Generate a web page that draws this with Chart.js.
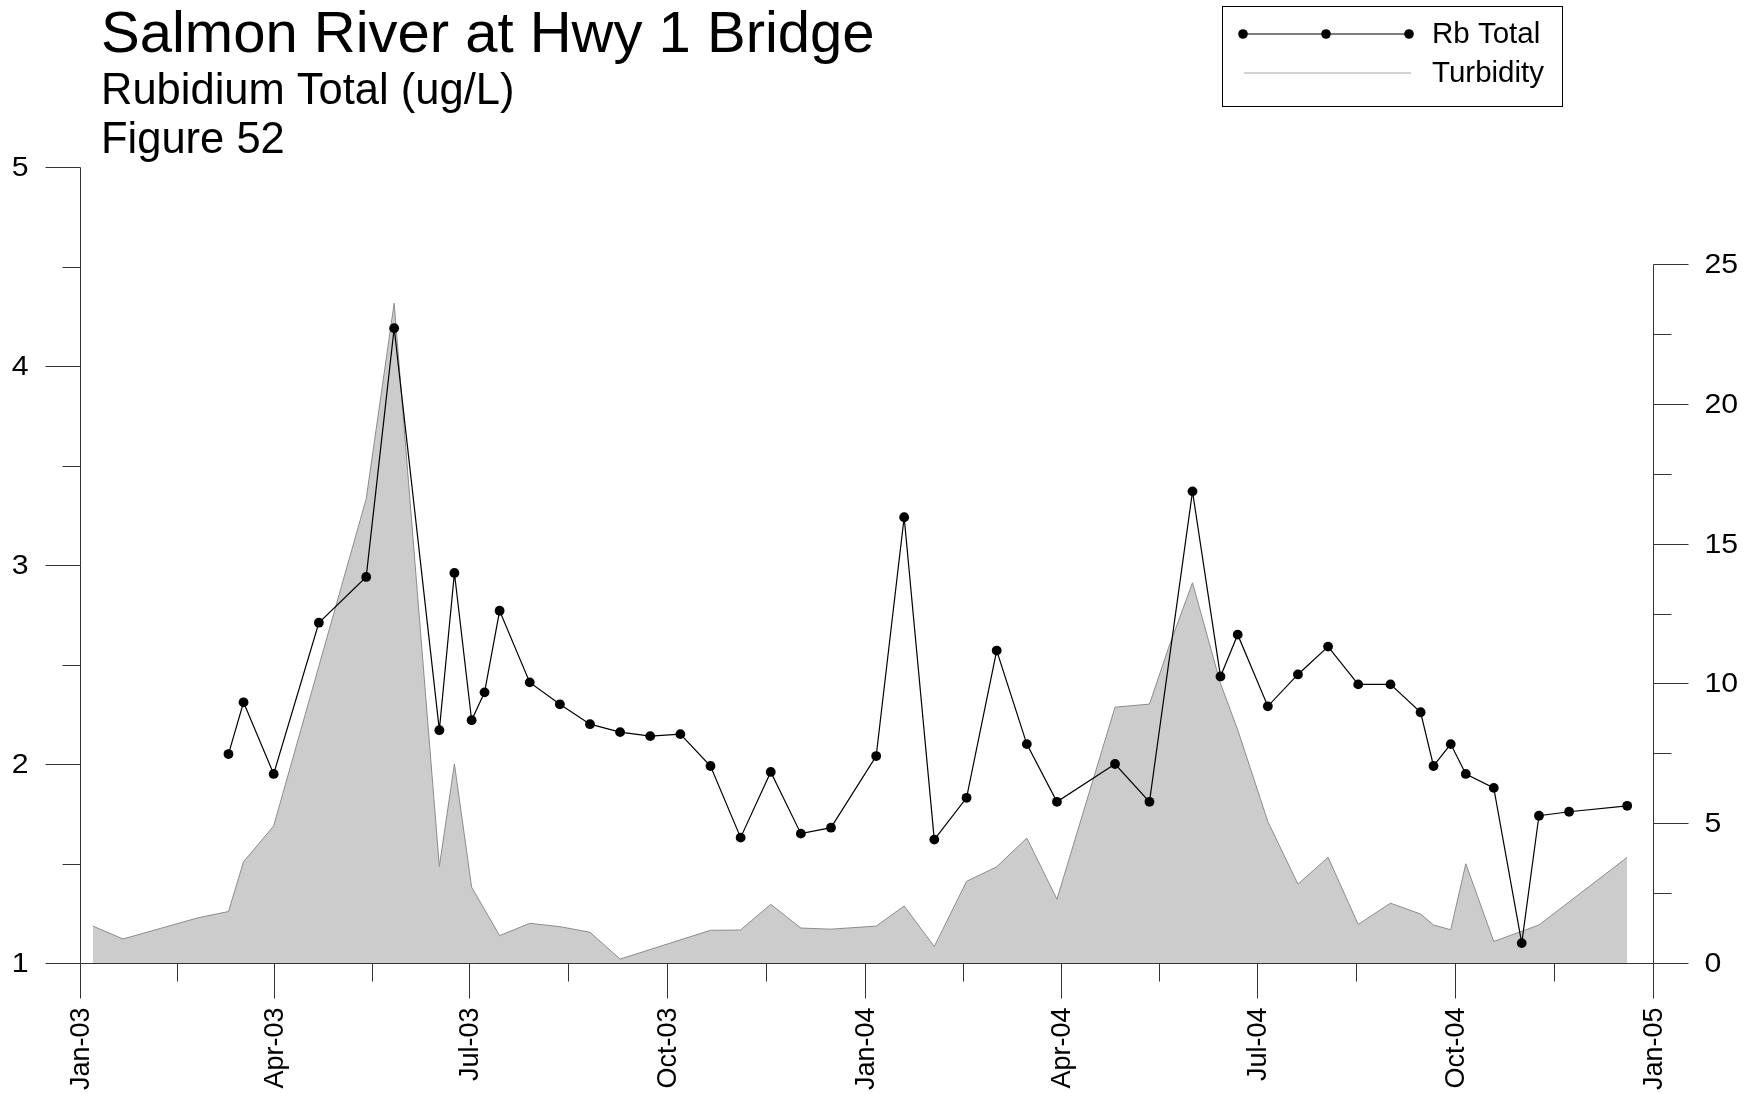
<!DOCTYPE html>
<html>
<head>
<meta charset="utf-8">
<title>Salmon River at Hwy 1 Bridge - Rubidium Total</title>
<script src="https://cdn.jsdelivr.net/npm/chart.js@4.4.1/dist/chart.umd.min.js"></script>
<style>
  html, body { margin: 0; padding: 0; background: #fff; }
  #wrap { width: 1758px; height: 1094px; }
</style>
</head>
<body>
<div id="wrap"><canvas id="rbChart" width="1758" height="1094"></canvas></div>
<script>
// Rubidium total (ug/L), sample dates
const rbDates = [
  "2003-03-11", "2003-03-18", "2003-04-01", "2003-04-22", "2003-05-14", "2003-05-27",
  "2003-06-17", "2003-06-24", "2003-07-02", "2003-07-08", "2003-07-15", "2003-07-29",
  "2003-08-12", "2003-08-26", "2003-09-09", "2003-09-23", "2003-10-07", "2003-10-21",
  "2003-11-04", "2003-11-18", "2003-12-02", "2003-12-16", "2004-01-06", "2004-01-19",
  "2004-02-02", "2004-02-17", "2004-03-02", "2004-03-16", "2004-03-30", "2004-04-26",
  "2004-05-12", "2004-06-01", "2004-06-14", "2004-06-22", "2004-07-06", "2004-07-20",
  "2004-08-03", "2004-08-17", "2004-09-01", "2004-09-15", "2004-09-21", "2004-09-29",
  "2004-10-06", "2004-10-19", "2004-11-01", "2004-11-09", "2004-11-23", "2004-12-20"
];
const rbValues = [
  2.05, 2.31, 1.95, 2.71, 2.94, 4.19,
  2.17, 2.96, 2.22, 2.36, 2.77, 2.41,
  2.30, 2.20, 2.16, 2.14, 2.15, 1.99,
  1.63, 1.96, 1.65, 1.68, 2.04, 3.24,
  1.62, 1.83, 2.57, 2.10, 1.81, 2.00,
  1.81, 3.37, 2.44, 2.65, 2.29, 2.45,
  2.59, 2.40, 2.40, 2.26, 1.99, 2.10,
  1.95, 1.88, 1.10, 1.74, 1.76, 1.79
];

// Turbidity (NTU), right axis
const turbDates = [
  "2003-01-07", "2003-01-21", "2003-02-25", "2003-03-11", "2003-03-18", "2003-04-01",
  "2003-05-14", "2003-05-27", "2003-06-17", "2003-06-24", "2003-07-02", "2003-07-15",
  "2003-07-29", "2003-08-12", "2003-08-26", "2003-09-09", "2003-10-21", "2003-11-04",
  "2003-11-18", "2003-12-02", "2003-12-16", "2004-01-06", "2004-01-19", "2004-02-02",
  "2004-02-17", "2004-03-02", "2004-03-16", "2004-03-30", "2004-04-26", "2004-05-12",
  "2004-05-21", "2004-06-01", "2004-06-14", "2004-06-22", "2004-07-06", "2004-07-20",
  "2004-08-03", "2004-08-17", "2004-09-01", "2004-09-15", "2004-09-21", "2004-09-29",
  "2004-10-06", "2004-10-19", "2004-11-09", "2004-12-20"
];
const turbValues = [
  1.32, 0.86, 1.62, 1.84, 3.62, 4.90,
  16.6, 23.6, 3.45, 7.12, 2.71, 0.98,
  1.42, 1.30, 1.10, 0.14, 1.17, 1.18,
  2.10, 1.25, 1.21, 1.32, 2.04, 0.59,
  2.92, 3.44, 4.47, 2.28, 9.15, 9.26,
  11.3, 13.6, 10.0, 8.34, 5.06, 2.82,
  3.78, 1.38, 2.14, 1.75, 1.36, 1.19,
  3.55, 0.77, 1.36, 3.78
];

const quarterDates = [
  "2003-01-01", "2003-04-01", "2003-07-01", "2003-10-01", "2004-01-01",
  "2004-04-01", "2004-07-01", "2004-10-01", "2005-01-01"
];
const quarterLabels = [
  "Jan-03", "Apr-03", "Jul-03", "Oct-03", "Jan-04",
  "Apr-04", "Jul-04", "Oct-04", "Jan-05"
];
const leftTicks = [1, 2, 3, 4, 5];
const rightTicks = [0, 5, 10, 15, 20, 25];

const START = Date.UTC(2003, 0, 1);
function toDay(s) {
  const [yy, mm, dd] = s.split("-").map(Number);
  return (Date.UTC(yy, mm - 1, dd) - START) / 86400000;
}

const rbPoints = rbDates.map((d, i) => ({ x: toDay(d), y: rbValues[i] }));
const turbPoints = turbDates.map((d, i) => ({ x: toDay(d), y: turbValues[i] }));
const quarterDays = quarterDates.map(toDay);

const FONT = '"Liberation Sans", Arial, Helvetica, sans-serif';
const MAJOR = 35, MINOR = 18;
const TICK_FONT = "27px " + FONT;
const TICK_STRETCH = 1.12;   // tick numbers are set a little wide

function crisp(v) { return Math.round(v) + 0.5; }
function seg(ctx, x1, y1, x2, y2) {
  ctx.beginPath();
  ctx.moveTo(x1, y1);
  ctx.lineTo(x2, y2);
  ctx.stroke();
}
function wideText(ctx, text, x, y, sx) {
  ctx.save();
  ctx.translate(x, y);
  ctx.scale(sx, 1);
  ctx.fillText(text, 0, 0);
  ctx.restore();
}

// axes, ticks and tick labels drawn from the chart's scales
const axesPlugin = {
  id: "axesPlugin",
  afterDraw(chart) {
    const { ctx, scales: { x, y, y2 } } = chart;
    const base = crisp(y.getPixelForValue(1));
    const xl = crisp(x.getPixelForValue(quarterDays[0]));
    const xr = crisp(x.getPixelForValue(quarterDays[quarterDays.length - 1]));

    ctx.save();
    ctx.strokeStyle = "#333";
    ctx.lineWidth = 1;
    ctx.fillStyle = "#000";

    // bottom axis
    seg(ctx, xl, base, xr, base);
    quarterDays.forEach((d, i) => {
      const px = crisp(x.getPixelForValue(d));
      seg(ctx, px, base, px, base + MAJOR);
      if (i < quarterDays.length - 1) {
        const mid = crisp(x.getPixelForValue((d + quarterDays[i + 1]) / 2));
        seg(ctx, mid, base, mid, base + MINOR);
      }
      ctx.save();
      ctx.translate(px, base + 44);
      ctx.rotate(-Math.PI / 2);
      ctx.font = "27px " + FONT;
      ctx.textAlign = "right";
      ctx.textBaseline = "middle";
      ctx.fillText(quarterLabels[i], 0, 1);
      ctx.restore();
    });

    // left axis (Rb)
    seg(ctx, xl, crisp(y.getPixelForValue(5)), xl, base);
    ctx.font = TICK_FONT;
    ctx.textAlign = "right";
    ctx.textBaseline = "middle";
    leftTicks.forEach((v, i) => {
      const py = crisp(y.getPixelForValue(v));
      seg(ctx, xl - MAJOR, py, xl, py);
      wideText(ctx, String(v), xl - MAJOR - 17, py + 1, TICK_STRETCH);
      if (i < leftTicks.length - 1) {
        const pm = crisp(y.getPixelForValue(v + 0.5));
        seg(ctx, xl - MINOR, pm, xl, pm);
      }
    });

    // right axis (turbidity)
    const top2 = crisp(y2.getPixelForValue(rightTicks[rightTicks.length - 1]));
    seg(ctx, xr, top2, xr, base);
    ctx.textAlign = "left";
    rightTicks.forEach((v, i) => {
      const py = crisp(y2.getPixelForValue(v));
      seg(ctx, xr, py, xr + MAJOR, py);
      wideText(ctx, String(v), xr + MAJOR + 16, py + 1, TICK_STRETCH);
      if (i < rightTicks.length - 1) {
        const pm = crisp(y2.getPixelForValue(v + 2.5));
        seg(ctx, xr, pm, xr + MINOR, pm);
      }
    });
    ctx.restore();
  }
};

// titles and legend box
const headerPlugin = {
  id: "headerPlugin",
  afterDraw(chart) {
    const ctx = chart.ctx;
    ctx.save();
    ctx.fillStyle = "#000";
    ctx.textAlign = "left";
    ctx.textBaseline = "alphabetic";
    ctx.font = "58px " + FONT;
    ctx.fillText("Salmon River at Hwy 1 Bridge", 101, 52);
    ctx.font = "43.5px " + FONT;
    ctx.fillText("Rubidium Total (ug/L)", 101, 104);
    ctx.fillText("Figure 52", 101, 153);

    // legend
    ctx.strokeStyle = "#000";
    ctx.lineWidth = 1;
    ctx.strokeRect(1222.5, 6.5, 340, 100);

    ctx.strokeStyle = "#000";
    ctx.lineWidth = 1.2;
    seg(ctx, 1243, 34, 1409, 34);
    [1243, 1326, 1409].forEach(cx => {
      ctx.beginPath();
      ctx.arc(cx, 34, 4.8, 0, Math.PI * 2);
      ctx.fill();
    });
    ctx.strokeStyle = "#a6a6a6";
    ctx.lineWidth = 1.2;
    seg(ctx, 1244, 73, 1411, 73);

    ctx.font = "29.5px " + FONT;
    ctx.textBaseline = "middle";
    ctx.fillText("Rb Total", 1432, 35);
    ctx.fillText("Turbidity", 1432, 74);
    ctx.restore();
  }
};

new Chart(document.getElementById("rbChart").getContext("2d"), {
  type: "line",
  data: {
    datasets: [
      {
        label: "Rb Total",
        data: rbPoints,
        yAxisID: "y",
        borderColor: "#000",
        borderWidth: 1.2,
        pointRadius: 4.9,
        pointBackgroundColor: "#000",
        pointBorderWidth: 0,
        tension: 0,
        fill: false,
        order: 0
      },
      {
        label: "Turbidity",
        data: turbPoints,
        yAxisID: "y2",
        borderColor: "#8c8c8c",
        borderWidth: 1,
        backgroundColor: "#cccccc",
        fill: "origin",
        pointRadius: 0,
        tension: 0,
        order: 1
      }
    ]
  },
  options: {
    responsive: false,
    animation: false,
    devicePixelRatio: 1,
    layout: { padding: { left: 80, right: 105, top: 167, bottom: 131 } },
    scales: {
      x: { type: "linear", display: false, min: 0, max: 731 },
      y: { display: false, min: 1, max: 5 },
      y2: { display: false, position: "right", min: 0, max: 28.47 }
    },
    plugins: {
      legend: { display: false },
      tooltip: { enabled: false }
    }
  },
  plugins: [axesPlugin, headerPlugin]
});
</script>
</body>
</html>
